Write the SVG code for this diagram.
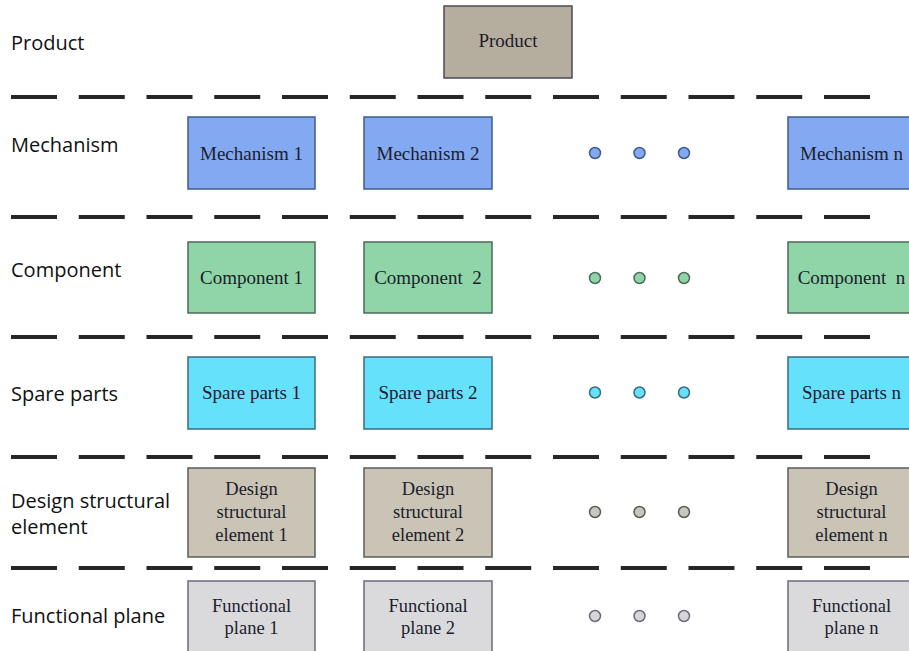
<svg xmlns="http://www.w3.org/2000/svg" width="909" height="651" viewBox="0 0 909 651">
<style>
.lbl{font-family:"Open Sans","Noto Sans",sans-serif;font-size:20px;fill:#111}
.bt{font-family:"Liberation Serif","Times New Roman",serif;font-size:19px;fill:#1c1c2c;text-anchor:middle}
.bt2{font-family:"Liberation Serif","Times New Roman",serif;font-size:18.5px;fill:#1c1c2c;text-anchor:middle}
.sep{stroke:#262626;stroke-width:4;stroke-dasharray:46 21.75;fill:none}
.prod{fill:#b5ae9e;stroke:#4a4a5c;stroke-width:1.5}
.mech{fill:#82a9f1;stroke:#3f5b8e;stroke-width:1.5}
.comp{fill:#8fd5a7;stroke:#4d6b5b;stroke-width:1.5}
.spare{fill:#66e1fb;stroke:#3a6b82;stroke-width:1.5}
.des{fill:#c9c4b5;stroke:#5b5b5b;stroke-width:1.5}
.func{fill:#dadadd;stroke:#6b6b7b;stroke-width:1.5}
.dm{fill:#82a9f1;stroke:#3f5b8e;stroke-width:1.5}
.dc{fill:#8fd5a7;stroke:#4d6b5b;stroke-width:1.5}
.ds{fill:#66e1fb;stroke:#3a6b82;stroke-width:1.5}
.dd{fill:#c9c6bd;stroke:#5b5b5b;stroke-width:1.5}
.df{fill:#d6d6da;stroke:#6b6b7b;stroke-width:1.5}
</style>
<g id="labels">
<text class="lbl" x="11" y="50">Product</text>
<text class="lbl" x="11" y="152">Mechanism</text>
<text class="lbl" x="11" y="277">Component</text>
<text class="lbl" x="11" y="401">Spare parts</text>
<text class="lbl" x="11" y="507.5">Design structural</text>
<text class="lbl" x="11" y="533.5">element</text>
<text class="lbl" x="11" y="623">Functional plane</text>
</g>
<g id="separators">
<path class="sep" d="M11 97H870"/>
<path class="sep" d="M11 217H870"/>
<path class="sep" d="M11 337H870"/>
<path class="sep" d="M11 457H870"/>
<path class="sep" d="M11 568H870"/>
</g>
<g id="product"><rect class="prod" x="444" y="6" width="128" height="72"/><text class="bt" x="508" y="47">Product</text></g>
<g id="mechanism1"><rect class="mech" x="188" y="117" width="127" height="72"/><text class="bt" x="251.5" y="159.5">Mechanism 1</text></g>
<g id="mechanism2"><rect class="mech" x="364" y="117" width="128" height="72"/><text class="bt" x="428" y="159.5">Mechanism 2</text></g>
<g id="mechanismn"><rect class="mech" x="788" y="117" width="127" height="72"/><text class="bt" x="851.5" y="159.5">Mechanism n</text></g>
<g id="mechanism-dots"><circle class="dm" cx="595" cy="153" r="5.5"/><circle class="dm" cx="639.5" cy="153" r="5.5"/><circle class="dm" cx="684" cy="153" r="5.5"/></g>
<g id="component1"><rect class="comp" x="188" y="242" width="127" height="71"/><text class="bt" x="251.5" y="284">Component 1</text></g>
<g id="component2"><rect class="comp" x="364" y="242" width="128" height="71"/><text class="bt" x="428" y="284" xml:space="preserve">Component  2</text></g>
<g id="componentn"><rect class="comp" x="788" y="242" width="127" height="71"/><text class="bt" x="851.5" y="284" xml:space="preserve">Component  n</text></g>
<g id="component-dots"><circle class="dc" cx="595" cy="278" r="5.5"/><circle class="dc" cx="639.5" cy="278" r="5.5"/><circle class="dc" cx="684" cy="278" r="5.5"/></g>
<g id="spare1"><rect class="spare" x="188" y="357" width="127" height="72"/><text class="bt" x="251.5" y="399">Spare parts 1</text></g>
<g id="spare2"><rect class="spare" x="364" y="357" width="128" height="72"/><text class="bt" x="428" y="399">Spare parts 2</text></g>
<g id="sparen"><rect class="spare" x="788" y="357" width="127" height="72"/><text class="bt" x="851.5" y="399">Spare parts n</text></g>
<g id="spare-dots"><circle class="ds" cx="595" cy="392.5" r="5.5"/><circle class="ds" cx="639.5" cy="392.5" r="5.5"/><circle class="ds" cx="684" cy="392.5" r="5.5"/></g>
<g id="design1"><rect class="des" x="188" y="468" width="127" height="89"/><text class="bt2" x="251.5" y="495">Design</text><text class="bt2" x="251.5" y="518">structural</text><text class="bt2" x="251.5" y="541">element 1</text></g>
<g id="design2"><rect class="des" x="364" y="468" width="128" height="89"/><text class="bt2" x="428" y="495">Design</text><text class="bt2" x="428" y="518">structural</text><text class="bt2" x="428" y="541">element 2</text></g>
<g id="designn"><rect class="des" x="788" y="468" width="127" height="89"/><text class="bt2" x="851.5" y="495">Design</text><text class="bt2" x="851.5" y="518">structural</text><text class="bt2" x="851.5" y="541">element n</text></g>
<g id="design-dots"><circle class="dd" cx="595" cy="512" r="5.5"/><circle class="dd" cx="639.5" cy="512" r="5.5"/><circle class="dd" cx="684" cy="512" r="5.5"/></g>
<g id="functional1"><rect class="func" x="188" y="581" width="127" height="72"/><text class="bt2" x="251.5" y="612">Functional</text><text class="bt2" x="251.5" y="634">plane 1</text></g>
<g id="functional2"><rect class="func" x="364" y="581" width="128" height="72"/><text class="bt2" x="428" y="612">Functional</text><text class="bt2" x="428" y="634">plane 2</text></g>
<g id="functionaln"><rect class="func" x="788" y="581" width="127" height="72"/><text class="bt2" x="851.5" y="612">Functional</text><text class="bt2" x="851.5" y="634">plane n</text></g>
<g id="functional-dots"><circle class="df" cx="595" cy="616" r="5.5"/><circle class="df" cx="639.5" cy="616" r="5.5"/><circle class="df" cx="684" cy="616" r="5.5"/></g>
</svg>
